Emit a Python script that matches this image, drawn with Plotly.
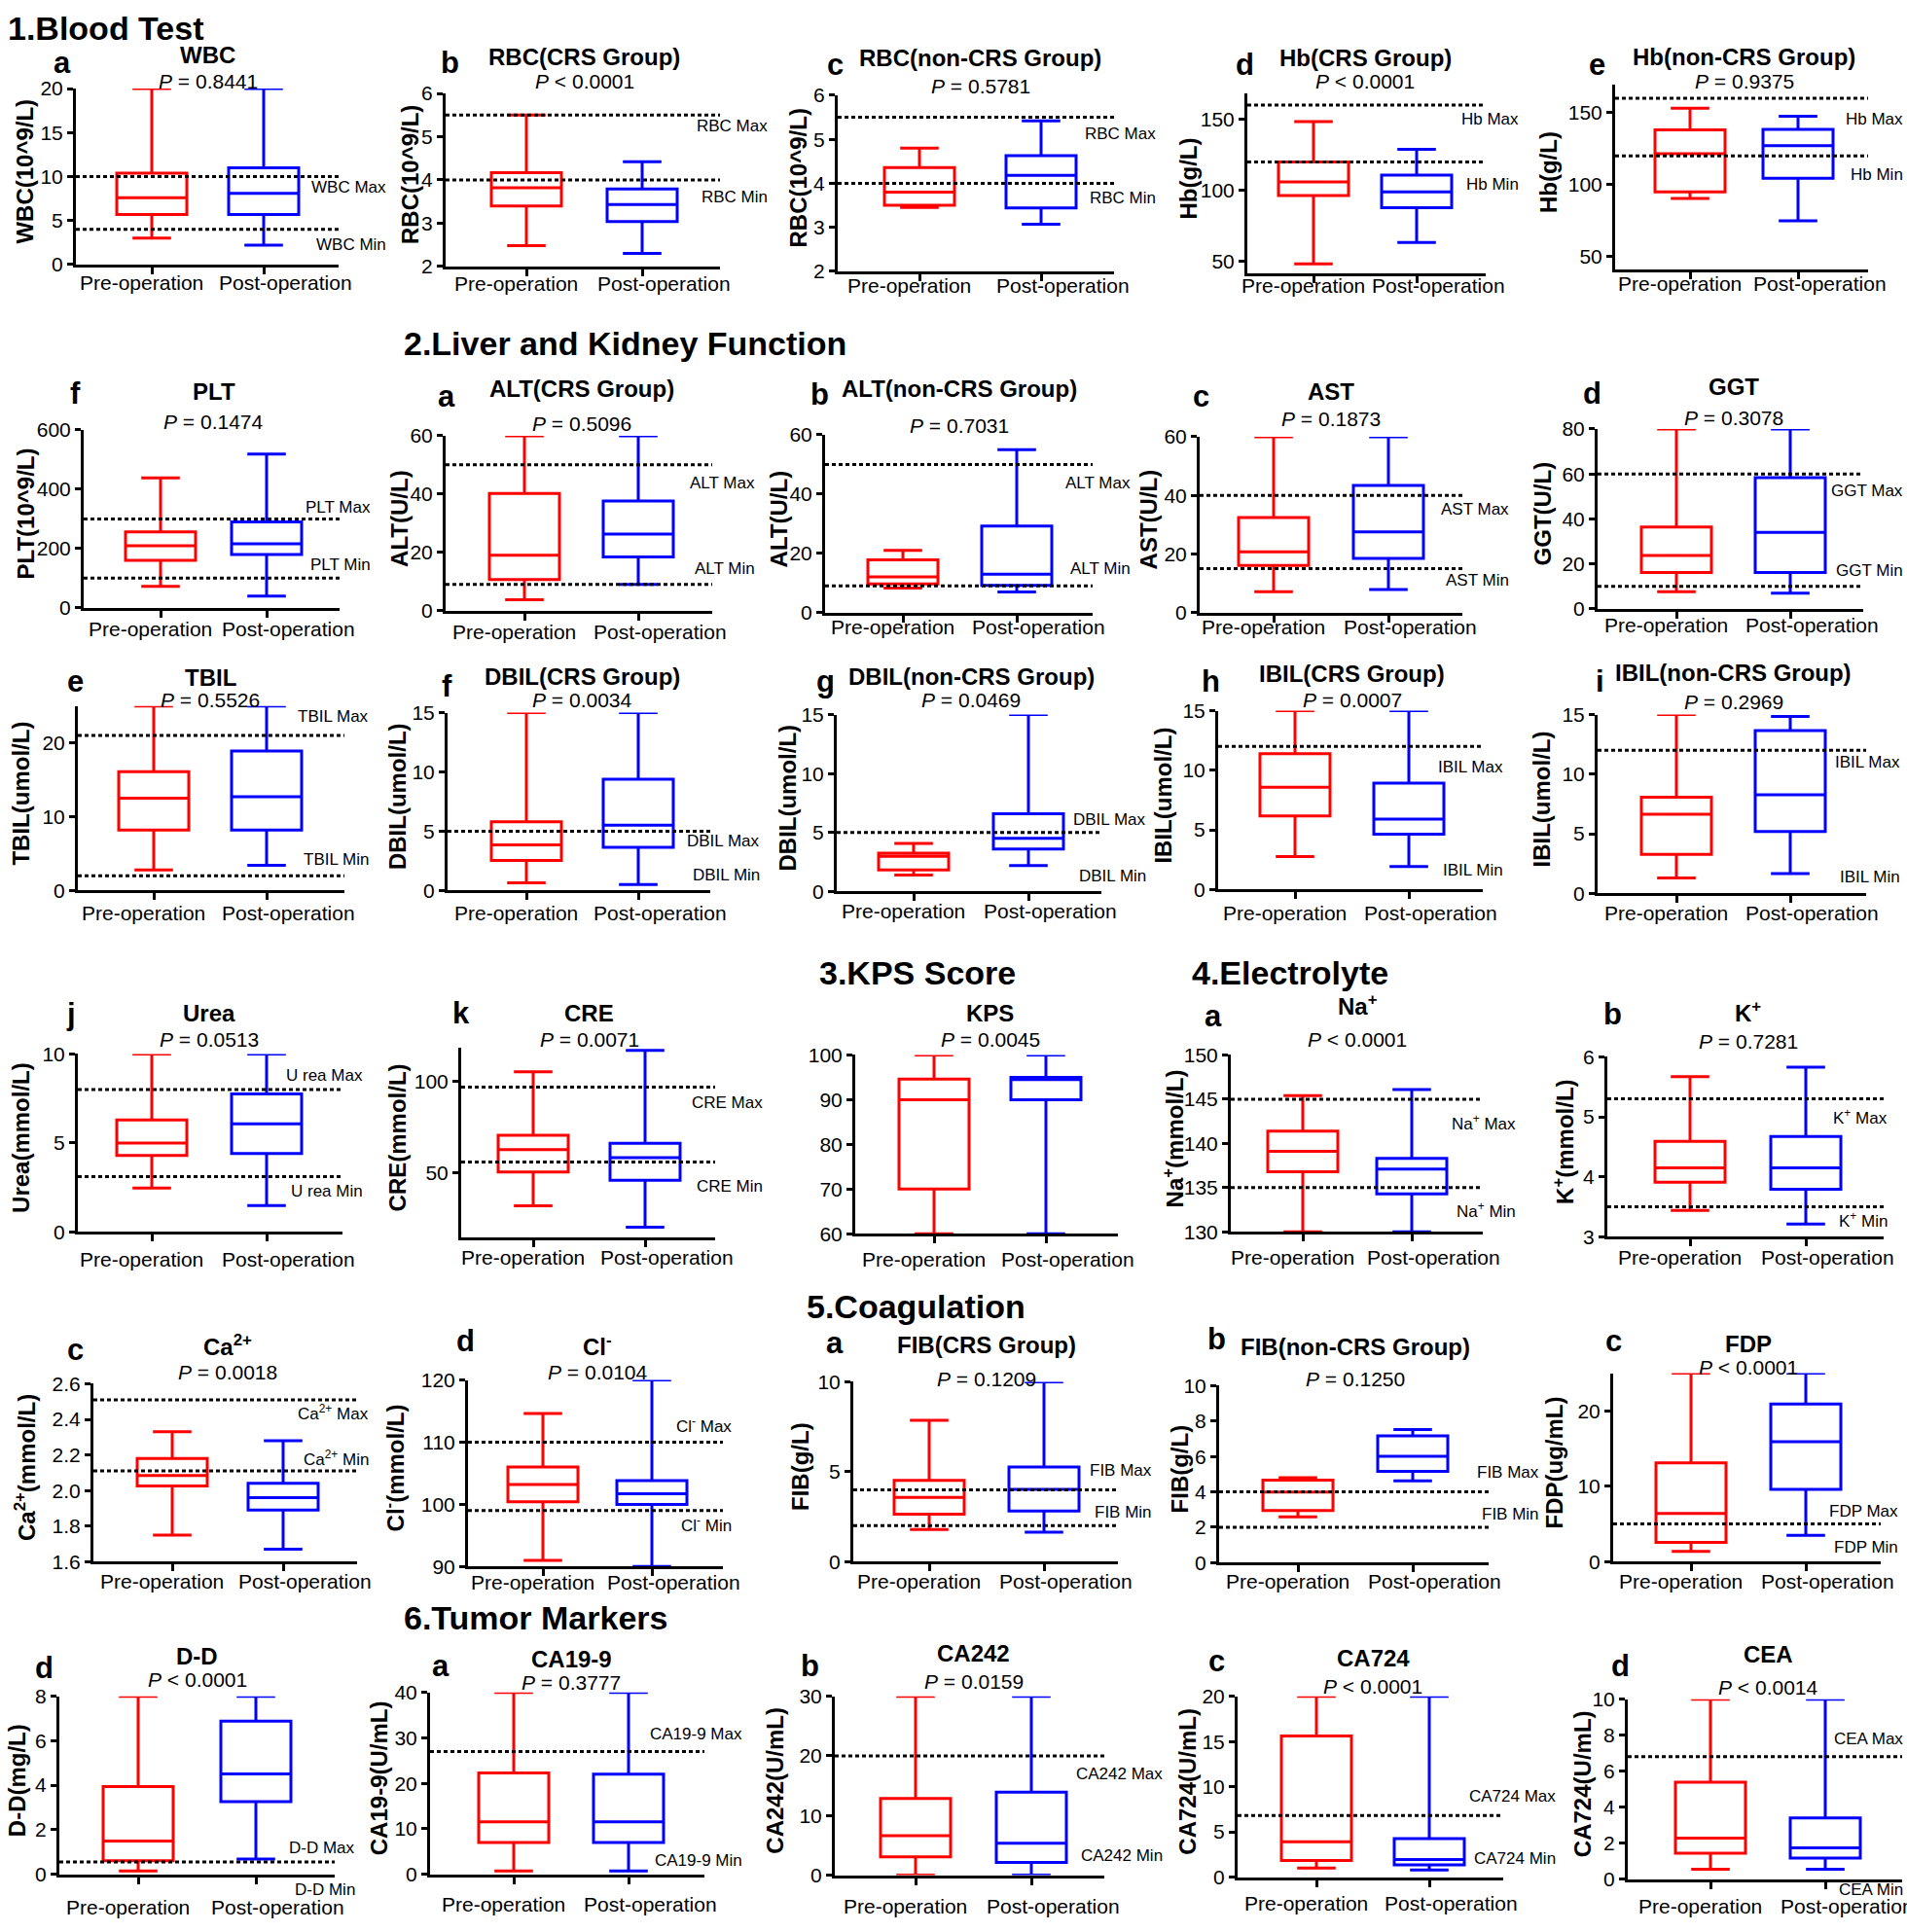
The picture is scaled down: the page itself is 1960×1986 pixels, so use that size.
import plotly.graph_objects as go

W, H = 1960, 1986
RED, BLUE = "#ff0000", "#0000ff"
FONT = "Liberation Sans, Arial, sans-serif"

# ---------------- data ----------------
categories = ["Pre-operation", "Post-operation"]

titles = ["WBC", "RBC(CRS Group)", "RBC(non-CRS Group)", "Hb(CRS Group)", "Hb(non-CRS Group)",
          "PLT", "ALT(CRS Group)", "ALT(non-CRS Group)", "AST", "GGT",
          "TBIL", "DBIL(CRS Group)", "DBIL(non-CRS Group)", "IBIL(CRS Group)", "IBIL(non-CRS Group)",
          "Urea", "CRE", "KPS", "Na<sup>+</sup>", "K<sup>+</sup>",
          "Ca<sup>2+</sup>", "Cl<sup>-</sup>", "FIB(CRS Group)", "FIB(non-CRS Group)", "FDP",
          "D-D", "CA19-9", "CA242", "CA724", "CEA"]

letters = ["a", "b", "c", "d", "e",
           "f", "a", "b", "c", "d",
           "e", "f", "g", "h", "i",
           "j", "k", "", "a", "b",
           "c", "d", "a", "b", "c",
           "d", "a", "b", "c", "d"]

p_values = ["= 0.8441", "< 0.0001", "= 0.5781", "< 0.0001", "= 0.9375",
            "= 0.1474", "= 0.5096", "= 0.7031", "= 0.1873", "= 0.3078",
            "= 0.5526", "= 0.0034", "= 0.0469", "= 0.0007", "= 0.2969",
            "= 0.0513", "= 0.0071", "= 0.0045", "< 0.0001", "= 0.7281",
            "= 0.0018", "= 0.0104", "= 0.1209", "= 0.1250", "< 0.0001",
            "< 0.0001", "= 0.3777", "= 0.0159", "< 0.0001", "< 0.0014"]

y_titles = ["WBC(10^9/L)", "RBC(10^9/L)", "RBC(10^9/L)", "Hb(g/L)", "Hb(g/L)",
            "PLT(10^9/L)", "ALT(U/L)", "ALT(U/L)", "AST(U/L)", "GGT(U/L)",
            "TBIL(umol/L)", "DBIL(umol/L)", "DBIL(umol/L)", "IBIL(umol/L)", "IBIL(umol/L)",
            "Urea(mmol/L)", "CRE(mmol/L)", "", "Na<sup>+</sup>(mmol/L)", "K<sup>+</sup>(mmol/L)",
            "Ca<sup>2+</sup>(mmol/L)", "Cl<sup>-</sup>(mmol/L)", "FIB(g/L)", "FIB(g/L)", "FDP(ug/mL)",
            "D-D(mg/L)", "CA19-9(U/mL)", "CA242(U/mL)", "CA724(U/mL)", "CA724(U/mL)"]

y_tick_labels = [["0", "5", "10", "15", "20"], ["2", "3", "4", "5", "6"], ["2", "3", "4", "5", "6"],
                 ["50", "100", "150"], ["50", "100", "150"],
                 ["0", "200", "400", "600"], ["0", "20", "40", "60"], ["0", "20", "40", "60"],
                 ["0", "20", "40", "60"], ["0", "20", "40", "60", "80"],
                 ["0", "10", "20"], ["0", "5", "10", "15"], ["0", "5", "10", "15"],
                 ["0", "5", "10", "15"], ["0", "5", "10", "15"],
                 ["0", "5", "10"], ["50", "100"], ["60", "70", "80", "90", "100"],
                 ["130", "135", "140", "145", "150"], ["3", "4", "5", "6"],
                 ["1.6", "1.8", "2.0", "2.2", "2.4", "2.6"], ["90", "100", "110", "120"],
                 ["0", "5", "10"], ["0", "2", "4", "6", "8", "10"], ["0", "10", "20"],
                 ["0", "2", "4", "6", "8"], ["0", "10", "20", "30", "40"], ["0", "10", "20", "30"],
                 ["0", "5", "10", "15", "20"], ["0", "2", "4", "6", "8", "10"]]

# box statistics: [min, q1, median, q3, max]
pre_stats = [[3.0, 5.7, 7.6, 10.4, 20], [2.48, 3.4, 3.82, 4.17, 5.5], [3.45, 3.5, 3.8, 4.36, 4.8],
             [48.4, 96.5, 106, 120, 148.4], [90.4, 95, 121.5, 138, 153],
             [72, 160, 209, 256, 438], [3.8, 10.7, 19, 40.2, 60], [8.3, 9.7, 12.1, 17.8, 21],
             [7.1, 16.1, 20.7, 32.4, 60], [7.6, 16.1, 23.7, 36.4, 80],
             [2.8, 8.2, 12.5, 16.1, 25], [0.65, 2.54, 3.84, 5.8, 15], [1.4, 1.82, 2.98, 3.25, 4.07],
             [2.76, 6.17, 8.58, 11.4, 15], [1.29, 3.28, 6.64, 8.06, 15],
             [2.47, 4.3, 4.99, 6.29, 10], [32.1, 50.5, 62.8, 70.7, 105.4], [60, 70, 90, 94.6, 100],
             [130, 136.8, 139.1, 141.4, 145.4], [3.44, 3.91, 4.15, 4.59, 5.67],
             [1.75, 2.025, 2.085, 2.18, 2.33], [91, 100.4, 103.2, 106, 114.6], [1.79, 2.64, 3.57, 4.52, 7.86],
             [2.59, 2.95, 3.99, 4.67, 4.8], [1.36, 2.55, 6.4, 13.1, 25],
             [0.14, 0.6, 1.49, 3.94, 8], [0.7, 7.0, 11.5, 22.3, 40], [0, 3.05, 6.6, 12.86, 30],
             [1.0, 1.84, 3.9, 15.6, 20], [0.54, 1.43, 2.27, 5.39, 10]]

post_stats = [[2.2, 5.7, 8.1, 11.0, 20], [2.3, 3.04, 3.43, 3.79, 4.42], [3.07, 3.44, 4.18, 4.63, 5.42],
              [63.5, 88, 99, 110.8, 129], [75, 104.4, 127, 138.4, 147.5],
              [40, 180, 216, 290, 519], [9.0, 18.4, 26.3, 37.6, 60], [7.0, 9.2, 13.0, 29.2, 55],
              [7.9, 18.5, 27.5, 43.4, 60], [6.9, 16.1, 34, 58.3, 80],
              [3.4, 8.2, 12.7, 18.9, 25], [0.5, 3.65, 5.5, 9.38, 15], [2.2, 3.6, 4.5, 6.6, 15],
              [1.93, 4.64, 5.9, 8.93, 15], [1.67, 5.19, 8.28, 13.66, 14.84],
              [1.48, 4.4, 6.07, 7.75, 10], [20.3, 46.1, 58.4, 66.3, 117.2], [60, 90, 94.5, 95, 100],
              [130, 134.3, 137.1, 138.3, 146.1], [3.21, 3.79, 4.15, 4.67, 5.83],
              [1.67, 1.89, 1.96, 2.04, 2.28], [90, 99.96, 101.7, 103.8, 120], [1.64, 2.82, 4.02, 5.27, 10],
              [4.62, 5.16, 6.01, 7.16, 7.52], [3.5, 9.6, 15.9, 20.9, 25],
              [0.68, 3.26, 4.51, 6.88, 8], [0.7, 7.0, 11.5, 22.0, 40], [0, 2.14, 5.36, 13.9, 30],
              [0.78, 1.35, 1.95, 4.25, 20], [0.54, 1.16, 1.73, 3.39, 10]]

# normal-range reference lines
ref_values = [[10, 4], [5.5, 4.0], [5.5, 4.0], [160, 120], [160, 120],
              [300, 100], [50, 9], [50, 9], [40, 15], [60, 10],
              [21, 2], [5.0], [5.0], [12], [12],
              [8.0, 3.1], [97, 56], [], [145, 135], [5.3, 3.5],
              [2.51, 2.11], [110, 99], [4, 2], [4, 2], [5],
              [0.55], [27], [20], [6.8], [6.8]]

ref_names = ["WBC", "RBC", "RBC", "Hb", "Hb", "PLT", "ALT", "ALT", "AST", "GGT",
             "TBIL", "DBIL", "DBIL", "IBIL", "IBIL", "U rea", "CRE", "", "Na<sup>+</sup>", "K<sup>+</sup>",
             "Ca<sup>2+</sup>", "Cl<sup>-</sup>", "FIB", "FIB", "FDP", "D-D", "CA19-9", "CA242", "CA724", "CEA"]

section_titles = ["1.Blood Test", "2.Liver and Kidney Function", "3.KPS Score",
                  "4.Electrolyte", "5.Coagulation", "6.Tumor Markers"]

# ---------------- layout (pixel geometry) ----------------
# L, R, T, B (pixels), y value at B, y value at T, Pre centre px, Post centre px
panel_px = [(78, 348, 80, 263, 0, 20, 156, 271), (458, 740, 85, 265, 2, 6, 541, 660),
            (861, 1145, 87, 270, 2, 6, 945, 1070), (1282, 1527, 85, 272, 41.9, 168.2, 1350, 1456),
            (1660, 1920, 76, 268, 41.3, 169.3, 1737, 1848),
            (86, 349, 435, 620, 0, 600, 165, 274), (458, 732, 441, 623, 0, 60, 539, 656),
            (848, 1123, 440, 625, 0, 60, 928, 1045), (1233, 1503, 442, 625, 0, 60, 1309, 1427),
            (1642, 1915, 434, 621, 0, 80, 1723, 1840),
            (80, 354, 722, 914, 0, 25, 158, 274), (460, 730, 729, 914, 0, 15, 541, 656),
            (860, 1132, 731, 915, 0, 15, 939, 1057), (1252, 1524, 727, 913, 0, 15, 1331, 1448),
            (1642, 1918, 731, 917, 0, 15, 1723, 1840),
            (80, 352, 1084, 1269, 0, 10, 156, 274), (474, 735, 1077, 1275, 14.6, 118.9, 548, 663),
            (879, 1149, 1085, 1271, 60, 100, 960, 1075), (1265, 1524, 1085, 1269, 130, 150, 1339, 1451),
            (1652, 1936, 1087, 1274, 3, 6, 1737, 1856),
            (96, 367, 1427, 1612, 1.6, 2.6, 177, 291), (481, 743, 1423, 1617, 90, 120, 558, 670),
            (877, 1149, 1425, 1612, 0, 10, 955, 1073), (1253, 1530, 1429, 1613, 0, 10, 1334, 1452),
            (1658, 1933, 1416, 1612, 0, 25, 1738, 1856),
            (61, 344, 1752, 1937, 0, 8, 142, 263), (442, 724, 1748, 1937, 0, 40, 528, 646),
            (858, 1135, 1752, 1938, 0, 30, 941, 1060), (1272, 1545, 1752, 1940, 0, 20, 1353, 1469),
            (1673, 1955, 1755, 1942, 0, 10, 1758, 1876)]

letter_pos = [(64, 53), (462, 53), (858, 55), (1279, 55), (1641, 55),
              (77, 397), (459, 400), (842, 398), (1234, 400), (1636, 397),
              (77, 697), (459, 702), (848, 697), (1244, 697), (1644, 697),
              (73, 1043), (474, 1042), (0, 0), (1247, 1045), (1657, 1043),
              (77, 1392), (478, 1383), (858, 1385), (1250, 1380), (1658, 1383),
              (45, 1722), (453, 1720), (832, 1720), (1250, 1715), (1665, 1720)]

title_y = [45, 47, 48, 48, 47, 395, 392, 392, 395, 390, 693, 692, 692, 688, 687,
           1042, 1042, 1042, 1033, 1040, 1387, 1387, 1387, 1389, 1386, 1710, 1713, 1707, 1712, 1708]
p_y = [72, 72, 77, 72, 72, 426, 428, 430, 423, 422, 716, 716, 716, 716, 718,
       1069, 1069, 1069, 1069, 1071, 1415, 1415, 1422, 1422, 1410, 1735, 1738, 1737, 1742, 1743]
ytitle_x = [26, 421, 820, 1221, 1591, 26, 411, 800, 1180, 1585, 22, 408, 810, 1196, 1585,
            22, 408, 0, 1206, 1607, 26, 405, 823, 1212, 1598, 17, 389, 797, 1221, 1626]
label_right = [399, 791, 1190, 1563, 1958, 383, 778, 1164, 1553, 1958, 381, 783, 1180, 1547, 1955,
               375, 786, 0, 1560, 1942, 381, 754, 1186, 1584, 1953, 367, 765, 1197, 1601, 1958]
label_y = [[8.8, 2.25], [5.25, 3.6], [5.13, 3.67], [150, 104], [145.5, 107],
           [340, 146], [43.8, 14.5], [43.8, 14.7], [35.4, 10.9], [52.6, 17],
           [23.6, 4.2], [4.2, 1.3], [6.1, 1.35], [10.3, 1.6], [11.0, 1.4],
           [8.8, 2.3], [88.8, 42.6], [], [142.3, 132.4], [5.0, 3.28],
           [2.44, 2.18], [112.7, 96.7], [5.1, 2.74], [5.1, 2.75], [6.7, 1.9],
           [1.2, -0.7], [30.9, 3.0], [17, 3.2], [8.9, 2.1], [7.77, -0.6]]
# distance (px) from x-axis line to centre of the category labels
xlabel_gap = [19, 18, 15, 13, 15, 22, 22, 15, 15, 17, 23, 23, 20, 24, 20,
              29, 20, 27, 26, 21, 20, 16, 20, 19, 20, 34, 31, 32, 27, 28]
# horizontal shift (px) of category labels from their box centres
xlabel_shift = (-11, 22)
section_pos = [(6, 17), (413, 345), (840, 1000), (1223, 1000), (827, 1347), (413, 1670)]

BOX_PX = 72


def px(x):
    return x / W


def py(y):
    return 1 - y / H


fig = go.Figure()
layout = dict(width=W, height=H, margin=dict(l=0, r=0, t=0, b=0),
              paper_bgcolor="white", plot_bgcolor="white", showlegend=False,
              boxmode="overlay", font=dict(family=FONT, color="black"))
annotations = []
shapes = []

for i in range(len(titles)):
    k = i + 1
    sfx = "" if k == 1 else str(k)
    xa, ya = "x" + sfx, "y" + sfx
    L, R, T, B, ylo, yhi, c0, c1 = panel_px[i]
    unit = c1 - c0
    layout["xaxis" + sfx] = dict(
        domain=[px(L), px(R)], range=[(L - c0) / unit, (R - c0) / unit], anchor=ya,
        tickvals=[0, 1], showticklabels=False, showline=True, linecolor="black", linewidth=3,
        ticks="outside", ticklen=7, tickwidth=2.5, tickcolor="black", showgrid=False,
        zeroline=False, fixedrange=True)
    layout["yaxis" + sfx] = dict(
        domain=[py(B), py(T)], range=[ylo, yhi], anchor=xa,
        tickvals=[float(t) for t in y_tick_labels[i]], ticktext=y_tick_labels[i],
        showline=True, linecolor="black", linewidth=3, ticks="outside", ticklen=6,
        tickwidth=2.5, tickcolor="black", showgrid=False, zeroline=False,
        tickfont=dict(family=FONT, size=21, color="black"), fixedrange=True)

    for j, (stats, color) in enumerate([(pre_stats[i], RED), (post_stats[i], BLUE)]):
        fig.add_trace(go.Box(
            x=[j], lowerfence=[stats[0]], q1=[stats[1]], median=[stats[2]],
            q3=[stats[3]], upperfence=[stats[4]], width=BOX_PX / unit, whiskerwidth=0.55,
            line=dict(color=color, width=3), fillcolor="rgba(0,0,0,0)", boxpoints=False,
            xaxis=xa, yaxis=ya, hoverinfo="skip", name=categories[j]))
        annotations.append(dict(text=categories[j], xref="paper", yref="paper",
                                x=px((c0, c1)[j] + xlabel_shift[j]), y=py(B + xlabel_gap[i]),
                                xanchor="center", yanchor="middle", showarrow=False,
                                font=dict(family=FONT, size=21, color="black")))

    for v in ref_values[i]:
        shapes.append(dict(type="line", xref=xa + " domain", yref=ya, x0=0, x1=1, y0=v, y1=v,
                           line=dict(color="black", width=3, dash="4px,3px"), layer="above"))

    if ref_names[i]:
        for txt, yv in zip([ref_names[i] + " Max", ref_names[i] + " Min"], label_y[i]):
            ypix = B - (yv - ylo) / (yhi - ylo) * (B - T)
            annotations.append(dict(text=txt, xref="paper", yref="paper", x=px(label_right[i]),
                                    y=py(ypix), xanchor="right", yanchor="middle", showarrow=False,
                                    font=dict(family=FONT, size=17, color="black")))

    cx = (c0 + c1) / 2
    annotations.append(dict(text="<b>" + titles[i] + "</b>", xref="paper", yref="paper",
                            x=px(cx), y=py(title_y[i]), xanchor="center", yanchor="middle",
                            showarrow=False, font=dict(family=FONT, size=24, color="black")))
    annotations.append(dict(text="<i>P</i> " + p_values[i], xref="paper", yref="paper",
                            x=px(cx), y=py(p_y[i]), xanchor="center", yanchor="middle",
                            showarrow=False, font=dict(family=FONT, size=21, color="black")))
    if letters[i]:
        lx, ly = letter_pos[i]
        annotations.append(dict(text="<b>" + letters[i] + "</b>", xref="paper", yref="paper",
                                x=px(lx), y=py(ly), xanchor="center", yanchor="middle",
                                showarrow=False, font=dict(family=FONT, size=31, color="black")))
    if y_titles[i]:
        annotations.append(dict(text="<b>" + y_titles[i] + "</b>", xref="paper", yref="paper",
                                x=px(ytitle_x[i]), y=py((T + B) / 2 - 5), xanchor="center",
                                yanchor="middle", textangle=-90, showarrow=False,
                                font=dict(family=FONT, size=24, color="black")))

for txt, (sx, sy) in zip(section_titles, section_pos):
    annotations.append(dict(text="<b>" + txt + "</b>", xref="paper", yref="paper",
                            x=px(sx), y=py(sy), xanchor="left", yanchor="middle",
                            showarrow=False, font=dict(family=FONT, size=34, color="black")))

layout["annotations"] = annotations
layout["shapes"] = shapes
fig.update_layout(**layout)

fig.write_html("out.html", config={"displayModeBar": False},
               post_script="document.body.style.margin='0px';document.body.style.overflow='hidden';")
